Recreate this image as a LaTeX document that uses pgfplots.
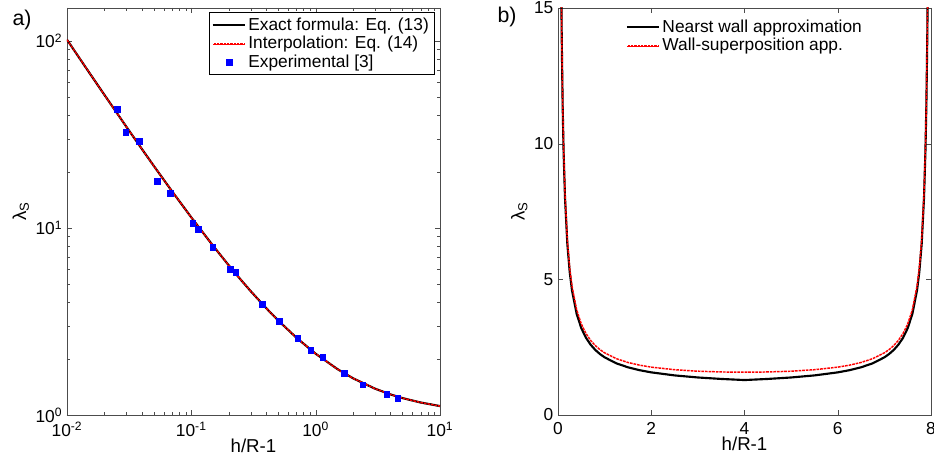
\documentclass[border=0pt]{standalone}
\usepackage{fontspec}
\setmainfont{Liberation Sans}
\usepackage{pgfplots}
\pgfplotsset{compat=1.18}
\pgfplotstableread{
x y
0.01 101.5
0.015 68.14
0.02 51.47
0.03 34.79
0.04 26.45
0.05 21.43
0.07 15.70
0.1 11.385
0.15 8.011
0.2 6.3125
0.25 5.286
0.3 4.596
0.4 3.727
0.5 3.2
0.7 2.590
1 2.125
1.5 1.758
2 1.571
3 1.383
4 1.288
5 1.231
7 1.166
10 1.116
}\exact
\pgfplotstableread{
x y
0.0254 43.3
0.0297 32.5
0.0382 29.1
0.0532 17.8
0.0674 15.3
0.1026 10.6
0.114 9.88
0.1486 7.88
0.206 6.04
0.2276 5.82
0.375 3.91
0.508 3.16
0.718 2.57
0.914 2.23
1.14 2.03
1.70 1.67
2.39 1.45
3.73 1.29
4.57 1.23
}\expdata
\pgfplotstableread{
x y
0.065 16.80
0.07 15.70
0.08 13.90
0.1 11.385
0.12 9.701
0.15 8.011
0.2 6.3125
0.25 5.286
0.3 4.596
0.4 3.727
0.5 3.2
0.6 2.845
0.7 2.590
0.8 2.397
0.9 2.246
1 2.125
1.25 1.905
1.5 1.758
1.75 1.651
2 1.571
2.5 1.459
3 1.383
3.5 1.329
4 1.288
4.5 1.329
5 1.383
5.5 1.459
6 1.571
6.25 1.651
6.5 1.758
6.75 1.905
7 2.125
7.1 2.246
7.2 2.397
7.3 2.590
7.4 2.845
7.5 3.2
7.6 3.727
7.7 4.596
7.75 5.286
7.8 6.3125
7.85 8.011
7.88 9.701
7.9 11.385
7.92 13.90
7.93 15.70
7.935 16.80
}\nearest
\pgfplotstableread{
x y
0.065 16.95
0.07 15.85
0.08 14.05
0.1 11.53
0.12 9.848
0.15 8.159
0.2 6.462
0.25 5.436
0.3 4.747
0.4 3.880
0.5 3.355
0.6 3.002
0.7 2.749
0.8 2.558
0.9 2.409
1 2.291
1.25 2.077
1.5 1.936
1.75 1.836
2 1.764
2.5 1.669
3 1.614
3.5 1.586
4 1.576
4.5 1.586
5 1.614
5.5 1.669
6 1.764
6.25 1.836
6.5 1.936
6.75 2.077
7 2.291
7.1 2.409
7.2 2.558
7.3 2.749
7.4 3.002
7.5 3.355
7.6 3.880
7.7 4.747
7.75 5.436
7.8 6.462
7.85 8.159
7.88 9.848
7.9 11.53
7.92 14.05
7.93 15.85
7.935 16.95
}\superpos
\begin{document}
\begin{tikzpicture}
\useasboundingbox (-50.25pt,-38.25pt) rectangle (650.25pt,311.25pt);
\pgfplotsset{
  every axis/.append style={
    scale only axis,
    width=279.75pt, height=305.25pt,
    axis line style={gray!60!black},
    tick style={gray!60!black},
    tick align=inside,
    major tick length=4pt,
    minor tick length=2pt,
    tick label style={font=\fontsize{13}{15}\selectfont},
    xticklabel style={yshift=-2pt},
    label style={font=\fontsize{14}{16}\selectfont},
    /pgf/number format/assume math mode=true,
    legend cell align=left,
    legend style={font=\fontsize{13}{15.5}\selectfont, row sep=-1pt},
  },
  blackline/.style={black, line width=1.6pt,
    legend image code/.code={\draw[black, line width=1.6pt] (0pt,0pt) -- (24pt,0pt);}},
  redline/.style={draw=red, line width=1.1pt, dash pattern=on 2pt off 0.7pt,
    legend image code/.code={\draw[red, line width=1.5pt, solid] (0pt,0pt) -- (24pt,0pt);\draw[white, line width=0.5pt, dash pattern=on 0.5pt off 2pt] (0pt,0pt) -- (24pt,0pt);}},
}
\begin{axis}[
  at={(0pt,0pt)}, anchor=south west,
  xmode=log, ymode=log,
  xmin=0.01, xmax=10, ymin=1, ymax=150,
  xtick={0.01,0.1,1,10},
  xticklabels={10\textsuperscript{-2},10\textsuperscript{-1},10\textsuperscript{0},10\textsuperscript{1}},
  ytick={1,10,100},
  yticklabels={10\textsuperscript{0},10\textsuperscript{1},10\textsuperscript{2}},
  xlabel={h/R-1}, ylabel={λ\textsubscript{S}},
  xlabel style={yshift=5pt},
  ylabel style={yshift=-2pt},
  legend style={at={(0.985,0.99)}, anchor=north east, draw=black, fill=white, inner sep=2pt},
]
\addplot[blackline] table[x=x,y=y]{\exact};
\addlegendentry{Exact formula: Eq. (13)}
\addplot[redline] table[x=x,y=y]{\exact};
\addlegendentry{Interpolation: Eq. (14)}
\addplot[only marks, mark=square*, mark size=2.2pt, blue, mark options={fill=blue, draw=blue},
  legend image code/.code={\draw[blue, fill=blue] (10pt,-2.2pt) rectangle (14.4pt,2.2pt);}] table[x=x,y=y]{\expdata};
\addlegendentry{Experimental [3]}
\end{axis}
\begin{axis}[
  at={(368.25pt,0pt)}, anchor=south west,
  xmin=0, xmax=8, ymin=0, ymax=15,
  xtick={0,2,4,6,8}, ytick={0,5,10,15},
  xlabel={h/R-1}, ylabel={λ\textsubscript{S}},
  xlabel style={yshift=5pt},
  ylabel style={yshift=-2pt},
  legend style={at={(0.17,0.985)}, anchor=north west, draw=none, fill=none},
]
\addplot[blackline] table[x=x,y=y]{\nearest};
\addlegendentry{Nearst wall approximation}
\addplot[redline] table[x=x,y=y]{\superpos};
\addlegendentry{Wall-superposition app.}
\end{axis}
\node[font=\fontsize{16}{18}\selectfont] at (-33.75pt,296.25pt) {a)};
\node[font=\fontsize{16}{18}\selectfont] at (330pt,298.5pt) {b)};
\end{tikzpicture}
\end{document}
